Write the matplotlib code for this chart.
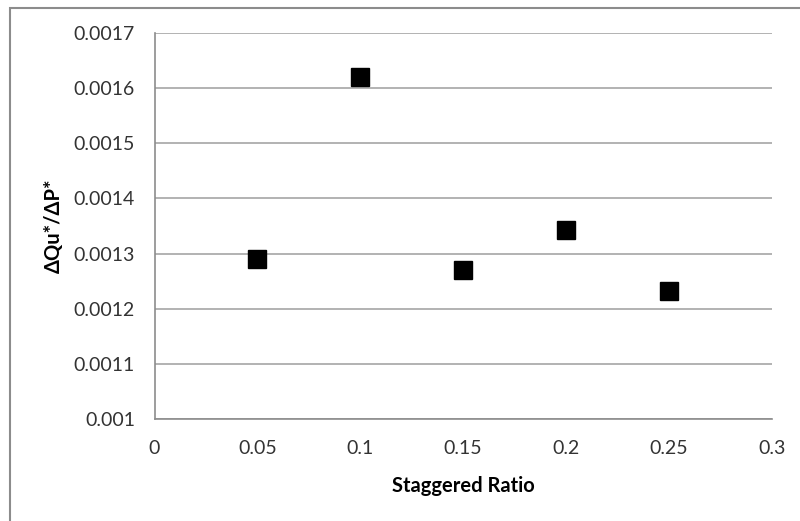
import matplotlib.pyplot as plt
from matplotlib.patches import Rectangle

# Data
staggered_ratio = [0.05, 0.1, 0.15, 0.2, 0.25]
dq_dp = [0.00129, 0.00162, 0.00127, 0.001343, 0.001232]

x_ticks = [0, 0.05, 0.1, 0.15, 0.2, 0.25, 0.3]
x_tick_labels = ['0', '0.05', '0.1', '0.15', '0.2', '0.25', '0.3']
y_ticks = [0.001, 0.0011, 0.0012, 0.0013, 0.0014, 0.0015, 0.0016, 0.0017]
y_tick_labels = ['0.001', '0.0011', '0.0012', '0.0013', '0.0014', '0.0015', '0.0016', '0.0017']

plt.rcParams['font.family'] = ['Lato', 'DejaVu Sans']

W, H = 800, 521
fig = plt.figure(figsize=(W / 100, H / 100), dpi=100)
ax = fig.add_axes([154.5 / W, 1 - 419 / H, (771.7 - 154.5) / W, (419 - 33) / H])

ax.plot(staggered_ratio, dq_dp, linestyle='none', marker='s', markersize=13,
        color='black', zorder=3)

ax.set_xlim(0, 0.3)
ax.set_ylim(0.001, 0.0017)
ax.set_xticks(x_ticks)
ax.set_xticklabels(x_tick_labels)
ax.set_yticks(y_ticks)
ax.set_yticklabels(y_tick_labels)
ax.tick_params(length=0, labelsize=14, colors='#333333')
ax.tick_params(axis='y', pad=14)
ax.tick_params(axis='x', pad=15)

ax.grid(axis='y', color='#a6a6a6', linewidth=1.2)
ax.set_axisbelow(True)
for side in ['top', 'right']:
    ax.spines[side].set_visible(False)
for side in ['left', 'bottom']:
    ax.spines[side].set_color('#8c8c8c')
    ax.spines[side].set_linewidth(1.2)

ax.set_xlabel('Staggered Ratio', fontsize=14.5, fontweight='bold', labelpad=14)
ax.set_ylabel('ΔQu*/ΔP*', fontsize=14.5, fontweight='bold', labelpad=7)

# outer chart border (only left and top edges visible in the crop)
fig.patches.append(Rectangle((10 / W, -0.2), 2, (H - 8) / H + 0.2,
                             transform=fig.transFigure, fill=False,
                             edgecolor='#8c8c8c', linewidth=1.5))

fig.savefig('out.png', dpi=100)
